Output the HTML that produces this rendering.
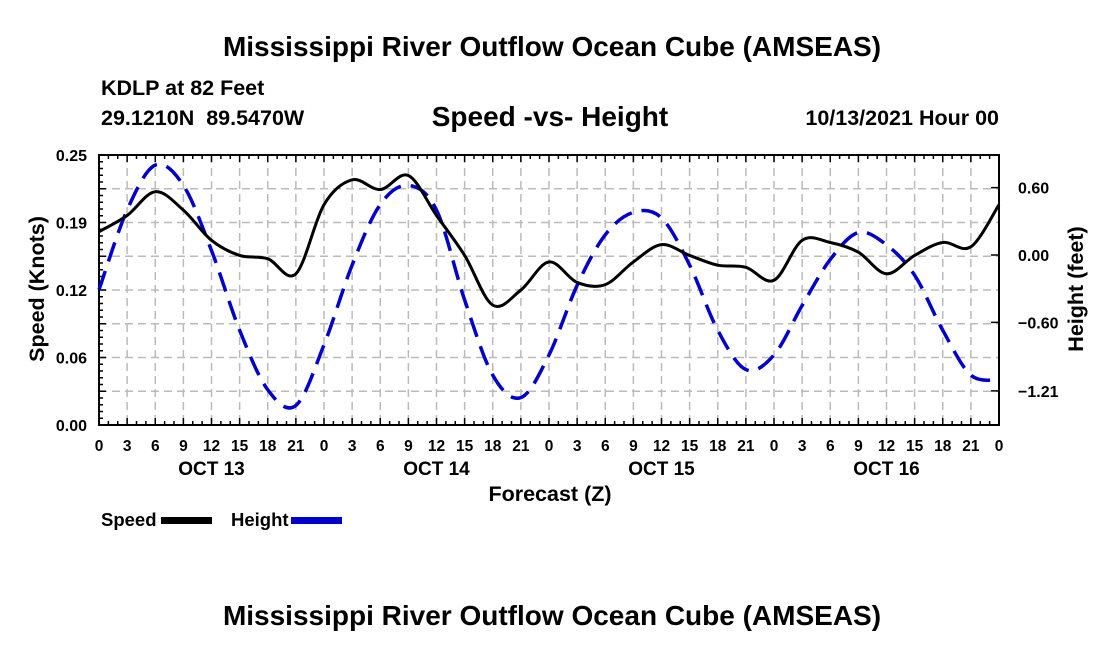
<!DOCTYPE html>
<html><head><meta charset="utf-8">
<style>
html,body{margin:0;padding:0;background:#fff;}
svg text{font-family:"Liberation Sans",Arial,sans-serif;font-weight:bold;fill:#000;}
</style></head>
<body>
<svg id="chart" width="1100" height="650" viewBox="0 0 1100 650" xmlns="http://www.w3.org/2000/svg">
<text x="552" y="56" font-size="28" text-anchor="middle">Mississippi River Outflow Ocean Cube (AMSEAS)</text>
<text x="101" y="95" font-size="21.5">KDLP at 82 Feet</text>
<text x="101" y="125" font-size="21.5">29.1210N&#160;&#160;89.5470W</text>
<text x="550" y="126" font-size="28" text-anchor="middle">Speed -vs- Height</text>
<text x="999" y="125" font-size="21.5" text-anchor="end">10/13/2021 Hour 00</text>
<g id="grid"></g>
<g id="axes"></g>
<g id="series"></g>
<text transform="translate(44,289) rotate(-90)" font-size="21.5" text-anchor="middle">Speed (Knots)</text>
<text transform="translate(1083,289) rotate(-90)" font-size="21.5" text-anchor="middle">Height (feet)</text>
<text x="550" y="501" font-size="21.5" text-anchor="middle">Forecast (Z)</text>
<g>
<text x="101" y="526" font-size="18.5">Speed</text>
<rect x="161" y="517" width="51" height="7" fill="#000"/>
<text x="231" y="526" font-size="18.5">Height</text>
<rect x="291" y="517" width="51" height="7" fill="#0000cc"/>
</g>
<text x="552" y="625" font-size="28" text-anchor="middle">Mississippi River Outflow Ocean Cube (AMSEAS)</text>
</svg>
<script>
const hours = [0,3,6,9,12,15,18,21,24,27,30,33,36,39,42,45,48,51,54,57,60,63,66,69,72,75,78,81,84,87,90,93,96];
const hourLabels = ["0","3","6","9","12","15","18","21","0","3","6","9","12","15","18","21","0","3","6","9","12","15","18","21","0","3","6","9","12","15","18","21","0"];
const dayLabels = ["OCT 13","OCT 14","OCT 15","OCT 16"];
const dayCenters = [12,36,60,84];
const speed = [0.179,0.194,0.216,0.199,0.171,0.157,0.154,0.140,0.204,0.227,0.218,0.231,0.194,0.157,0.111,0.125,0.151,0.132,0.130,0.151,0.167,0.157,0.148,0.146,0.134,0.171,0.169,0.160,0.140,0.157,0.169,0.165,0.204];
const height = [-0.31,0.40,0.80,0.62,0.04,-0.67,-1.20,-1.34,-0.80,-0.09,0.45,0.62,0.40,-0.40,-1.07,-1.27,-0.89,-0.27,0.18,0.38,0.33,-0.09,-0.67,-1.02,-0.89,-0.45,-0.04,0.20,0.09,-0.18,-0.67,-1.07,-1.11];
const leftTicks = [0,0.0625,0.125,0.1875,0.25];
const leftTickLabels = ["0.00","0.06","0.12","0.19","0.25"];
const rightTicks = [0.60,0,-0.60,-1.21];
const rightTickLabels = ["0.60","0.00","\u22120.60","\u22121.21"];

const X0=99,X1=999,Y0=425,Y1=155;
const xs = h => X0 + (h/96)*(X1-X0);
const ys = v => Y0 - (v/0.25)*(Y0-Y1);
const yh = v => 255 - v*112.3;
const NS="http://www.w3.org/2000/svg";
function mk(tag, attrs, parent){const e=document.createElementNS(NS,tag);for(const k in attrs)e.setAttribute(k,attrs[k]);parent.appendChild(e);return e;}
const grid=document.getElementById('grid'), axes=document.getElementById('axes'), series=document.getElementById('series');

for(let i=1;i<8;i++){const y=Y0-i*(Y0-Y1)/8;
 const l=mk('line',{x1:X0,x2:X1,y1:y,y2:y,stroke:'#bbb','stroke-width':1.5,'stroke-dasharray':'8,5'},grid);
 
 }
hours.forEach((h,i)=>{if(i>0&&i<hours.length-1){const x=xs(h);
 const l=mk('line',{x1:x,x2:x,y1:Y1,y2:Y0,stroke:'#bbb','stroke-width':1.5,'stroke-dasharray':'8,5'},grid);
 
 }});

const fr=mk('rect',{x:X0,y:Y1,width:X1-X0,height:Y0-Y1,fill:'none',stroke:'#000','stroke-width':2},axes);


for(let h=0;h<=96;h++){const x=xs(h);const big=h%3===0;
 mk('line',{x1:x,x2:x,y1:Y0,y2:Y0-(big?7:4),stroke:'#000','stroke-width':1.5},axes);
 mk('line',{x1:x,x2:x,y1:Y1,y2:Y1+(big?7:4),stroke:'#000','stroke-width':1.5},axes);}
for(let i=0;i<=40;i++){const y=Y0-i*(Y0-Y1)/40;
 mk('line',{x1:X0,x2:X0+(i%5===0?7:4),y1:y,y2:y,stroke:'#000','stroke-width':1.5},axes);}
hours.forEach((h,i)=>{const t=mk('text',{x:xs(h),y:451,'font-size':15.5,'text-anchor':'middle'},axes);t.textContent=hourLabels[i];
 
 });
dayLabels.forEach((d,i)=>{const t=mk('text',{x:xs(dayCenters[i]),y:475,'font-size':19,'text-anchor':'middle'},axes);t.textContent=d;
 
 });
leftTicks.forEach((v,i)=>{const t=mk('text',{x:87,y:ys(v)+6,'font-size':16,'text-anchor':'end'},axes);t.textContent=leftTickLabels[i];
 
 });
rightTicks.forEach((v,i)=>{const y=yh(v);
 mk('line',{x1:X1,x2:X1-8,y1:y,y2:y,stroke:'#000','stroke-width':1.5},axes);
 const t=mk('text',{x:1018,y:y+6,'font-size':16},axes);t.textContent=rightTickLabels[i];
 
 });

function smooth(pts){let d=`M${pts[0][0]},${pts[0][1]}`;
 for(let i=0;i<pts.length-1;i++){const p0=pts[i-1]||pts[i],p1=pts[i],p2=pts[i+1],p3=pts[i+2]||p2;
  d+=` C${p1[0]+(p2[0]-p0[0])/6},${p1[1]+(p2[1]-p0[1])/6} ${p2[0]-(p3[0]-p1[0])/6},${p2[1]-(p3[1]-p1[1])/6} ${p2[0]},${p2[1]}`;}
 return d;}
const hp=mk('path',{d:smooth(hours.map((h,i)=>[xs(h),yh(height[i])])),fill:'none',stroke:'#0000cc','stroke-width':3.5,'stroke-dasharray':'20,10'},series);


const sp=mk('path',{d:smooth(hours.map((h,i)=>[xs(h),ys(speed[i])])),fill:'none',stroke:'#000','stroke-width':3},series);


</script>
</body></html>
